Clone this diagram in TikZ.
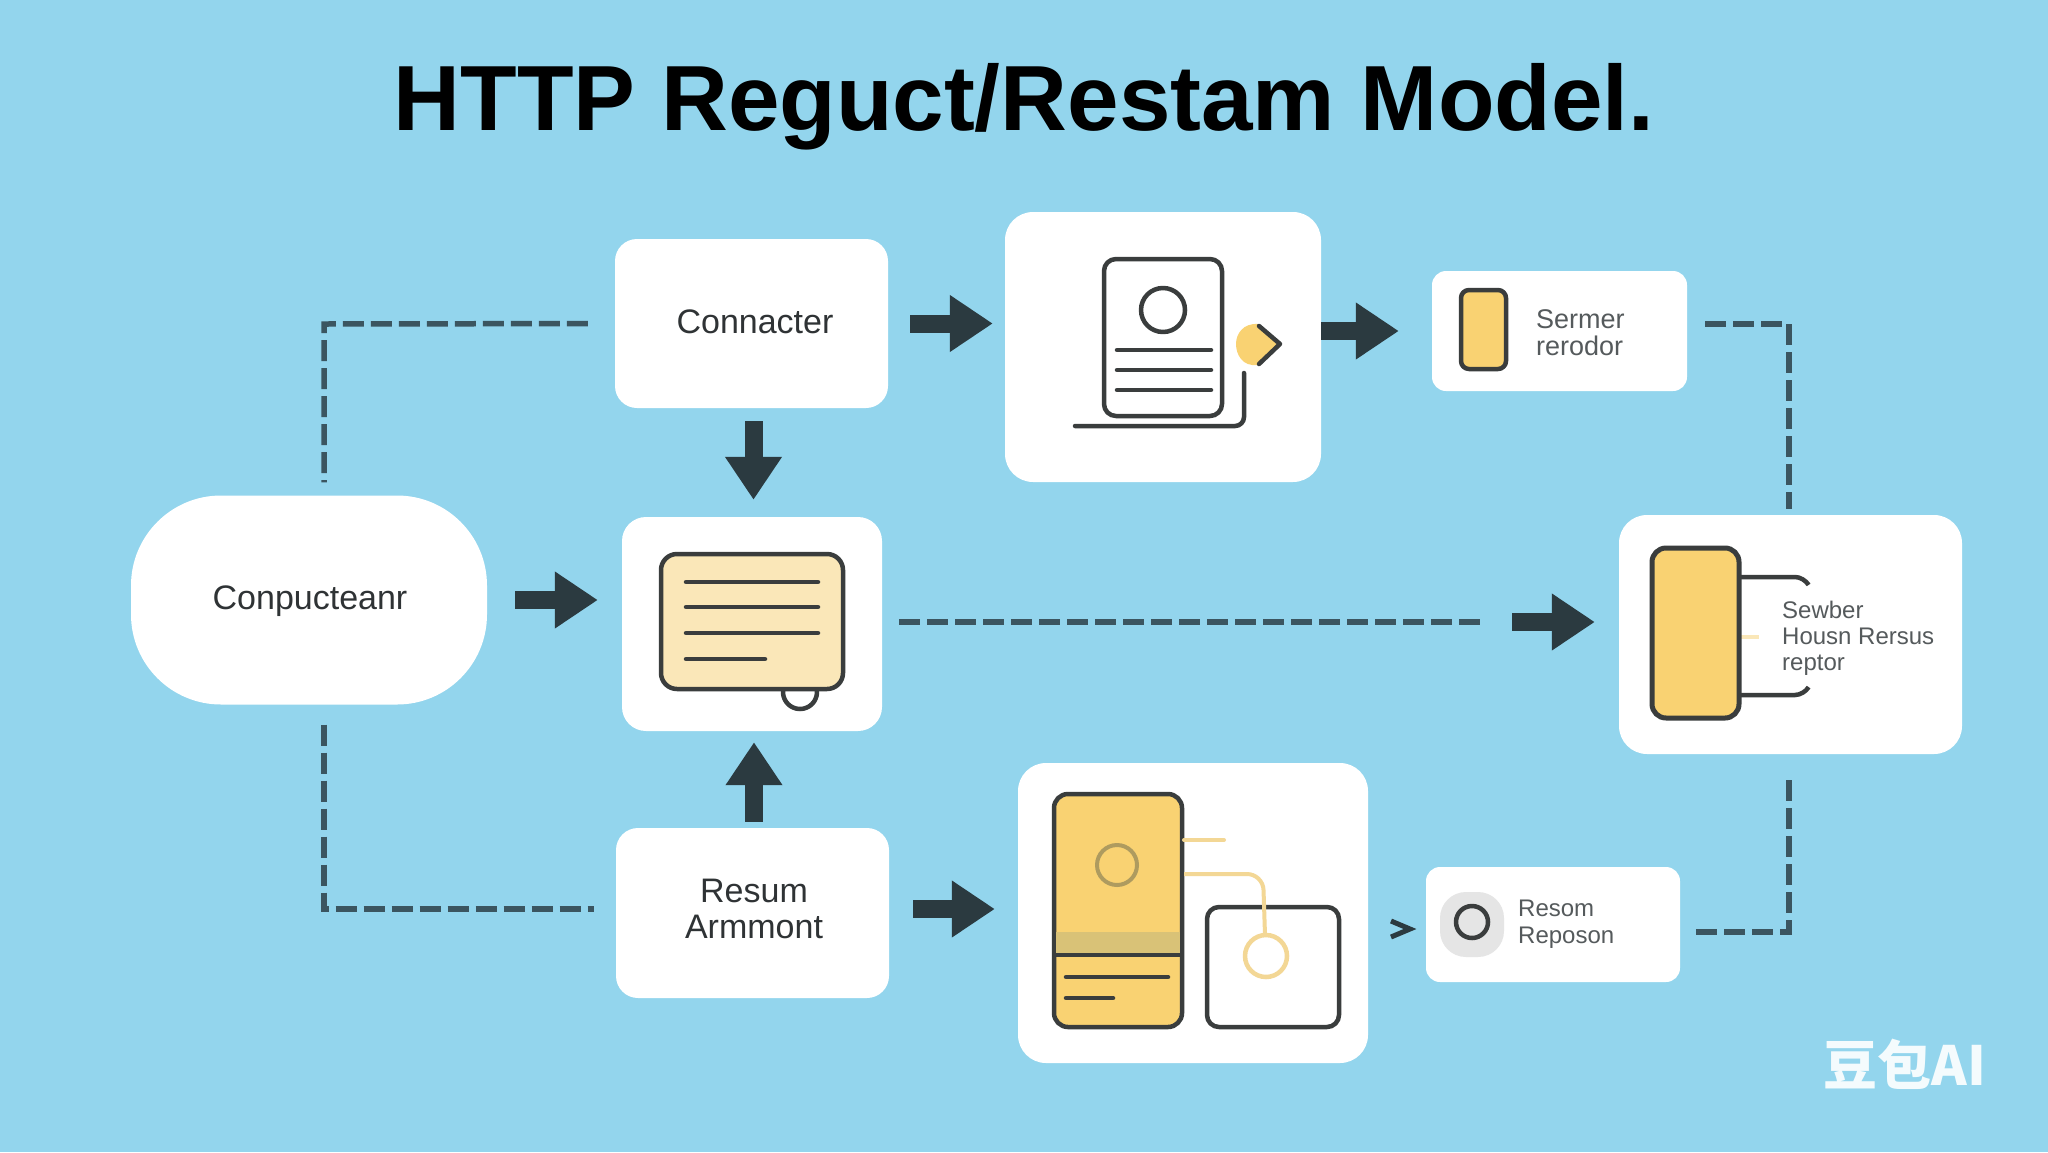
\documentclass[tikz,border=0pt]{standalone}
\usepackage{fontspec}
\setmainfont{Liberation Sans}
\newfontfamily\cjkf{Noto Sans CJK SC}
\usetikzlibrary{arrows.meta,calc}
\definecolor{bgblue}{HTML}{93D5ED}
\definecolor{ink}{HTML}{3A3D3D}
\definecolor{arrowink}{HTML}{2B3A40}
\definecolor{dashink}{HTML}{3B5560}
\definecolor{goldf}{HTML}{F9D272}
\definecolor{creamf}{HTML}{FAE7B8}
\definecolor{bandf}{HTML}{D9C277}
\definecolor{tan}{HTML}{F3D795}
\definecolor{midtext}{HTML}{555A5C}
\definecolor{darktext}{HTML}{2F3335}
\tikzset{
  x=1pt,y=-1pt,
  card/.style={fill=white,draw=none,inner sep=0pt,rounded corners=#1},
  card/.default=24pt,
  blockarrow/.style={draw=arrowink,line width=18pt,-{Triangle[length=43pt,width=54pt]}},
  dashline/.style={draw=dashink,line width=5.5pt,dash pattern=on 21pt off 7pt},
  icon/.style={draw=ink,line width=4.5pt,line join=round},
  stroke/.style={draw=ink,line width=4.5pt,line cap=round},
  bigtext/.style={text=darktext,font=\fontsize{34}{36}\selectfont,align=center,inner sep=0pt},
  smalltext/.style={text=midtext,align=left,inner sep=0pt,anchor=west},
}
\begin{document}
\begin{tikzpicture}
\useasboundingbox (0,0) rectangle (2048,1152);
\fill[bgblue] (0,0) rectangle (2048,1152);

\node[anchor=base,inner sep=0pt,font=\fontsize{92.6}{96}\selectfont\bfseries,text=black] (title) at (1024,130) {HTTP Reguct/Restam Model.};

% cards
\node[card=90pt,minimum width=356pt,minimum height=209pt] (comp) at (309,600) {};
\node[bigtext] (complabel) at (310,601) {Conpucteanr};
\node[card=22pt,minimum width=273pt,minimum height=169pt] (conn) at (751.5,323.5) {};
\node[bigtext] (connlabel) at (755,322) {Connacter};
\node[card=28pt,minimum width=316pt,minimum height=270pt] (doccard) at (1163,347) {};
\node[card=14pt,minimum width=255pt,minimum height=120pt] (sermer) at (1559.5,331) {};
\node[card=24pt,minimum width=260pt,minimum height=214pt] (list) at (752,624) {};
\node[card=28pt,minimum width=343pt,minimum height=239pt] (server) at (1790.5,634.5) {};
\node[card=22pt,minimum width=273pt,minimum height=170pt] (resum) at (752.5,913) {};
\node[bigtext] (resumlabel) at (754,909) {Resum\\Armmont};
\node[card=28pt,minimum width=350pt,minimum height=300pt] (image) at (1193,913) {};
\node[card=14pt,minimum width=254pt,minimum height=115pt] (resom) at (1553,924.5) {};

% labels
\node[smalltext,font=\fontsize{27}{27}\selectfont] (sermerlabel) at (1536,333) {Sermer\\rerodor};
\node[smalltext,font=\fontsize{24}{26}\selectfont] (serverlabel) at (1782,638) {Sewber\\Housn Rersus\\reptor};
\node[smalltext,font=\fontsize{24}{27}\selectfont] (resomlabel) at (1518,924) {Resom\\Reposon};

% document icon
\draw[icon,rounded corners=12pt] (1104,259) rectangle (1222,416);
\node[icon,circle,minimum size=44pt,inner sep=0pt] (docface) at (1163,310) {};
\draw[stroke] (1117,350) -- (1211,350);
\draw[stroke] (1117,370) -- (1211,370);
\draw[stroke] (1117,390) -- (1211,390);
\draw[stroke,rounded corners=9pt] (1075,426) -- (1244,426) -- (1244,373);
\fill[goldf] (1258,324) -- (1281,344) -- (1258,365) .. controls (1242,367) and (1236,354) .. (1236,344) .. controls (1236,334) and (1243,323) .. (1258,324) -- cycle;
\draw[stroke,line join=round] (1259,326) -- (1280,344) -- (1259,364);

% sermer icon
\draw[icon,fill=goldf,rounded corners=8pt] (1461,290) rectangle (1506,369);

% list icon
\node[icon,circle,minimum size=34pt,inner sep=0pt,fill=white] (listknob) at (800,692) {};
\draw[icon,fill=creamf,rounded corners=16pt] (661,554) rectangle (843,689);
\draw[stroke] (686,582) -- (818,582);
\draw[stroke] (686,607) -- (818,607);
\draw[stroke] (686,633) -- (818,633);
\draw[stroke] (686,659) -- (765,659);

% server icon
\draw[stroke,rounded corners=9pt] (1739,577) -- (1804,577) -- (1808,584);
\draw[stroke,rounded corners=9pt] (1739,695) -- (1804,695) -- (1808,688);
\draw[draw=creamf,line width=4pt] (1741,637) -- (1759,637);
\draw[icon,line width=5pt,fill=goldf,rounded corners=14pt] (1652,548) rectangle (1739,718);

% image icon
\draw[icon,line width=4.5pt,fill=goldf,rounded corners=14pt] (1054,794) rectangle (1182,1027);
\fill[bandf] (1056,932) rectangle (1180,955);
\draw[draw=ink,line width=4pt] (1054,955) -- (1182,955);
\node[circle,draw=bandf!80!black,line width=4pt,minimum size=40pt,inner sep=0pt] (imgface) at (1117,865) {};
\draw[stroke] (1066,977) -- (1168,977);
\draw[stroke] (1066,998) -- (1113,998);
\draw[draw=tan,line width=4pt,line cap=round] (1184,840) -- (1224,840);
\draw[icon,line width=4.5pt,rounded corners=12pt] (1207,907) rectangle (1339,1027);
\draw[draw=tan,line width=4pt,rounded corners=16pt] (1184,874) -- (1263,874) -- (1265,935);
\node[circle,draw=tan,line width=4.5pt,minimum size=42pt,inner sep=0pt] (imgknob) at (1266,956) {};

% resom icon
\fill[fill=black!10,rounded corners=26pt] (1440,892) rectangle (1504,957);
\node[icon,circle,minimum size=32pt,inner sep=0pt,line width=4.5pt] (resomface) at (1472,922) {};

% block arrows
\draw[blockarrow,shorten <=22pt,shorten >=12pt] (conn.east) -- (conn.east -| doccard.west);
\draw[blockarrow,shorten >=33pt] (doccard.east |- sermer.west) -- (sermer.west);
\draw[blockarrow,shorten <=13pt,shorten >=17pt] ([xshift=2pt]conn.south) -- ([xshift=2pt]conn.south |- list.north);
\draw[blockarrow,shorten <=6pt,shorten >=11pt] ([xshift=1.5pt]resum.north) -- ([xshift=1.5pt]resum.north |- list.south);
\draw[blockarrow,shorten <=28pt,shorten >=24pt] (comp.east) -- (comp.east -| list.west);
\draw[blockarrow,shorten <=24pt,shorten >=23pt] ([yshift=4pt]resum.east) -- ([yshift=4pt]resum.east -| image.west);
\coordinate (midgap) at (1482,622);
\coordinate (midarrow) at (1512,622);
\draw[dashline] (list.east |- midgap) ++(17,0) -- (midgap);
\draw[blockarrow,shorten >=24pt] (midarrow) -- (midarrow -| server.west);

% chevron between image and resom
\draw[draw=arrowink,line width=5pt,line join=miter] (1391,921) -- (1410,929) -- (1391,937);

% dashed connectors
\coordinate (ctl) at (324,324);
\coordinate (cbl) at (324,909);
\coordinate (ctr) at (1789,324);
\coordinate (cbr) at (1789,932);
\draw[dashline,shorten <=27pt,shorten >=13pt] (conn.west) -- (ctl) -- (ctl |- comp.north);
\draw[dashline,shorten <=20pt,shorten >=22pt] (ctl |- comp.south) -- (cbl) -- (cbl -| resum.west);
\draw[dashline,shorten <=18pt,shorten >=6pt] (sermer.east |- ctr) -- (ctr) -- (ctr |- server.north);
\draw[dashline,shorten <=26pt,shorten >=0pt] (cbr |- server.south) -- (cbr) -- (1695,932);

% watermark
\node[anchor=center,inner sep=0pt,text=white!90!bgblue,font=\cjkf\fontsize{54}{54}\selectfont\bfseries] (mark) at (1905,1064) {豆包AI};
\end{tikzpicture}
\end{document}
